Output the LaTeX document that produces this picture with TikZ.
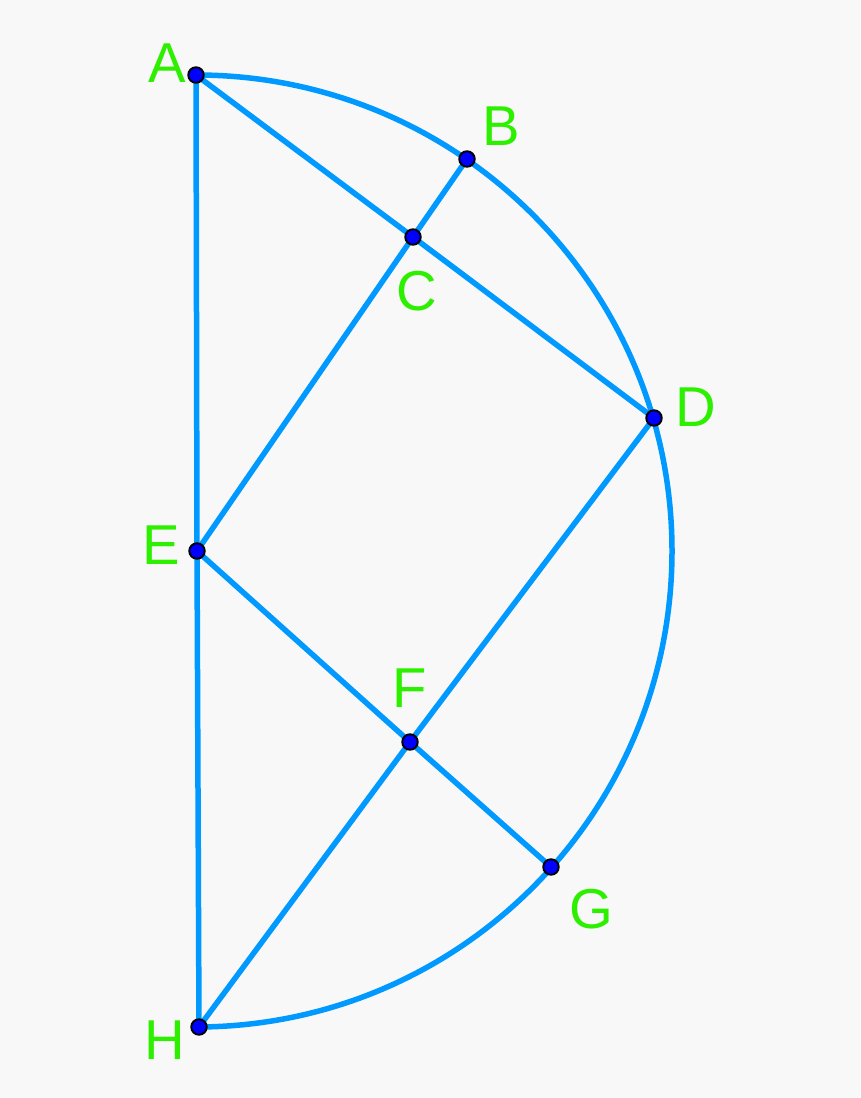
\documentclass[tikz,border=0pt]{standalone}
\usepackage{fontspec}
\setmainfont{Liberation Sans}
\definecolor{bg}{RGB}{248,248,248}
\definecolor{ln}{RGB}{0,153,255}
\definecolor{lab}{RGB}{45,240,0}
\definecolor{pt}{RGB}{0,0,255}
\begin{document}
\begin{tikzpicture}[x=0.02cm,y=-0.02cm,
  seg/.style={draw=ln,line width=0.11cm},
  dot/.style={circle,fill=pt,draw=black,line width=1.1pt,inner sep=0pt,minimum size=0.31cm},
  lbl/.style={text=lab,font=\fontsize{32}{32}\selectfont,inner sep=0pt}]
\fill[bg] (0,0) rectangle (860,1098);
\useasboundingbox (0,0) rectangle (860,1098);
\coordinate (A) at (196,75);
\coordinate (B) at (467,159);
\coordinate (C) at (413,237);
\coordinate (D) at (654,418);
\coordinate (E) at (197,551);
\coordinate (F) at (410,742);
\coordinate (G) at (551,867);
\coordinate (H) at (199,1027);
\draw[seg] (A) arc[start angle=90,end angle=-90,radius=476*0.02cm];
\draw[seg] (A) -- (E) -- (H);
\draw[seg] (A) -- (C) -- (D);
\draw[seg] (B) -- (C) -- (E);
\draw[seg] (E) -- (F) -- (G);
\draw[seg] (D) -- (F) -- (H);
\foreach \p in {A,B,C,D,E,F,G,H} \node[dot] (n\p) at (\p) {};
\node[lbl] (lA) at (167,63) {A};
\node[lbl] (lB) at (501,126) {B};
\node[lbl] (lC) at (417,291) {C};
\node[lbl] (lD) at (696,407) {D};
\node[lbl] (lE) at (161,545) {E};
\node[lbl] (lF) at (410,688) {F};
\node[lbl] (lG) at (591,909) {G};
\node[lbl] (lH) at (165,1040) {H};
\end{tikzpicture}
\end{document}
